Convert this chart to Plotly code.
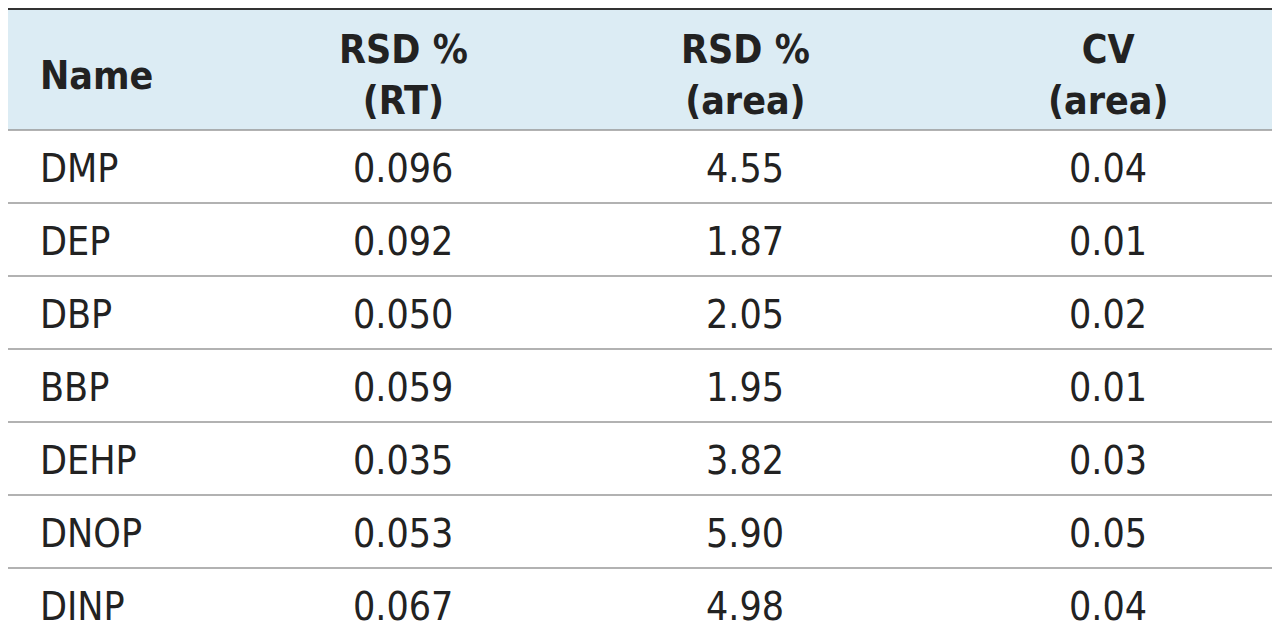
import plotly.graph_objects as go

names = ["DMP", "DEP", "DBP", "BBP", "DEHP", "DNOP", "DINP"]
rsd_rt = ["0.096", "0.092", "0.050", "0.059", "0.035", "0.053", "0.067"]
rsd_area = ["4.55", "1.87", "2.05", "1.95", "3.82", "5.90", "4.98"]
cv_area = ["0.04", "0.01", "0.02", "0.01", "0.03", "0.05", "0.04"]
headers = ["<b>Name</b>", "<b>RSD %<br>(RT)</b>", "<b>RSD %<br>(area)</b>", "<b>CV<br>(area)</b>"]

W, H = 1280, 635
head_h, row_h = 122, 73
font = dict(family="DejaVu Sans Condensed, Liberation Sans Narrow, sans-serif", size=39, color="#222")
col_x = [30, 395, 737, 1100]
col_anchor = ["left", "center", "center", "center"]

def py(px):
    return 1 - px / H

fig = go.Figure()
shapes = [dict(type="rect", xref="paper", yref="paper", x0=0, x1=1, y0=py(head_h), y1=1,
               fillcolor="#dcecf4", line_width=0, layer="below"),
          dict(type="line", xref="paper", yref="paper", x0=0, x1=1, y0=py(1), y1=py(1),
               line=dict(color="#333", width=2))]
for k in range(8):
    y = py(head_h + row_h * k)
    shapes.append(dict(type="line", xref="paper", yref="paper", x0=0, x1=1, y0=y, y1=y,
                       line=dict(color="#999", width=1.5)))

ann = []
for c, h in enumerate(headers):
    ann.append(dict(text=h, x=col_x[c] / W, y=py(head_h / 2 + 6), xanchor=col_anchor[c],
                    yanchor="middle", font=font, showarrow=False, xref="paper", yref="paper"))
for c, col in enumerate([names, rsd_rt, rsd_area, cv_area]):
    for r, v in enumerate(col):
        ann.append(dict(text=v, x=col_x[c] / W, y=py(head_h + row_h * r + row_h / 2 + 2),
                        xanchor=col_anchor[c], yanchor="middle", font=font, showarrow=False,
                        xref="paper", yref="paper"))

fig.update_layout(width=W, height=H, margin=dict(l=0, r=0, t=0, b=0),
                  paper_bgcolor="white", plot_bgcolor="white", shapes=shapes, annotations=ann,
                  xaxis=dict(visible=False), yaxis=dict(visible=False))
fig.write_html("out.html")
